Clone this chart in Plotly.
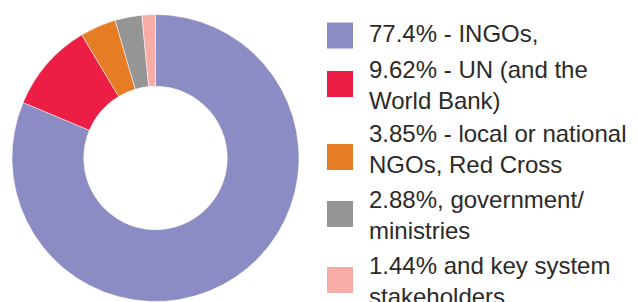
import plotly.graph_objects as go

labels = ["77.4% - INGOs,",
          "9.62% - UN (and the<br>World Bank)",
          "3.85% - local or national<br>NGOs, Red Cross",
          "2.88%, government/<br>ministries",
          "1.44% and key system<br>stakeholders"]
values = [77.4, 9.62, 3.85, 2.88, 1.44]
colors = ["#8B8CC3", "#EC1E46", "#E67D25", "#959595", "#F7ADA6"]

W, H = 638, 302
OFF = 8  # page body margin offset
cx, cy, R = 155.5 - OFF, 158.0 - OFF, 143.5

fig = go.Figure(go.Pie(
    labels=labels, values=values, hole=0.5, sort=False,
    direction="clockwise", rotation=0,
    marker=dict(colors=colors, line=dict(color="white", width=0.5)),
    textinfo="none", hoverinfo="label", showlegend=False,
    domain=dict(x=[(cx - R) / W, (cx + R) / W], y=[(H - cy - R) / H, (H - cy + R) / H]),
))

# legend layout (pixels from top of visible page)
sq_centers = [35.5, 84, 157, 214, 280]
txt_centers = [33.5, 84.5, 148.5, 215, 281]
sq_x0, sq_size, txt_x = 327, 26, 367
for lab, col, yc, yt in zip(labels, colors, sq_centers, txt_centers):
    yc, yt = yc - OFF, yt - OFF
    fig.add_shape(type="rect", xref="paper", yref="paper",
                  x0=(sq_x0 - OFF) / W, x1=(sq_x0 - OFF + sq_size) / W,
                  y0=(H - yc - sq_size / 2) / H, y1=(H - yc + sq_size / 2) / H,
                  fillcolor=col, line=dict(width=0))
    fig.add_annotation(xref="paper", yref="paper", x=(txt_x - OFF) / W, y=(H - yt) / H,
                       text=lab, showarrow=False, xanchor="left", yanchor="middle",
                       align="left", font=dict(family="Liberation Sans", size=24, color="#2B2A29"))

fig.update_layout(width=W, height=H, margin=dict(l=0, r=0, t=0, b=0),
                  paper_bgcolor="white", plot_bgcolor="white")
fig.write_html("out.html")
